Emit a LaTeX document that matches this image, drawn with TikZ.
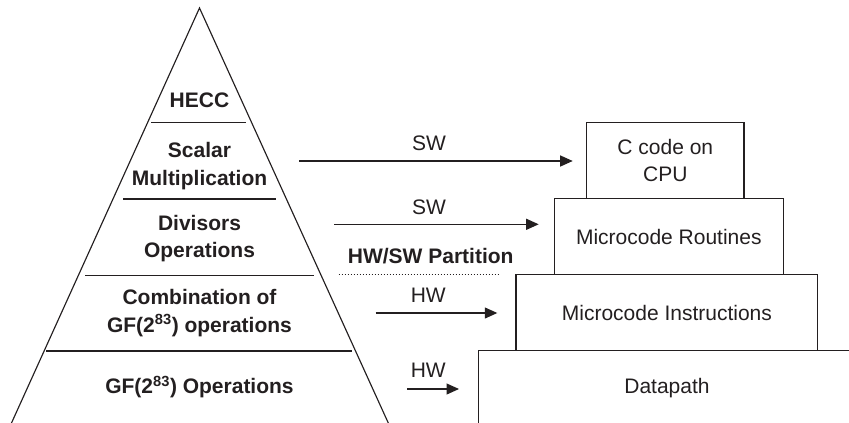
\documentclass[tikz,border=0pt]{standalone}
\usepackage{fontspec}
\setmainfont{Liberation Sans}
\usetikzlibrary{arrows.meta,calc}
\definecolor{ink}{HTML}{231F20}
\begin{document}
\begin{tikzpicture}[x=1pt,y=-1pt,line width=1.15pt,draw=ink,
  every node/.style={font=\fontsize{21}{27.5}\selectfont,text=ink,inner sep=0pt,align=center},
  lvl/.style={font=\fontsize{21}{27.5}\selectfont\bfseries},
  boxnode/.style={draw=ink,line width=1.15pt},
  arr/.style={draw=ink,line width=1.15pt,-{Triangle[length=12.5pt,width=11pt]}},
  divider/.style={draw=ink,line width=1.15pt}]
\useasboundingbox (0,0) rectangle (849,423);
\clip (0,0) rectangle (849,423);
% pyramid
\coordinate (apex) at (199.5,8);
\coordinate (bl) at (11.5,423);
\coordinate (br) at (388.3,423);
\draw[divider] (bl) -- (apex) -- (br);
\coordinate (d1l) at (151,122.7); \coordinate (d1r) at (246,122.7);
\coordinate (d2l) at (123,199);   \coordinate (d2r) at (276,199);
\coordinate (d3l) at (85,275.3);  \coordinate (d3r) at (314,275.3);
\coordinate (d4l) at (46,351);    \coordinate (d4r) at (352,351);
\draw[divider] (d1l) -- (d1r);
\draw[divider] (d2l) -- (d2r);
\draw[divider] (d3l) -- (d3r);
\draw[divider] (d4l) -- (d4r);
\node[lvl] (hecc) at (199.5,100) {HECC};
\node[lvl] (scalar) at (199.5,166) {Scalar\\Multiplication};
\node[lvl] (div) at (199.5,238.5) {Divisors\\Operations};
\node[lvl] (comb) at (199.5,313) {Combination of\\GF(2\textsuperscript{83}) operations};
\node[lvl] (gf) at (199.5,387) {GF(2\textsuperscript{83}) Operations};
% boxes
\node[boxnode,minimum width=157.3pt,minimum height=75.6pt] (cpu) at (665.3,160.5) {C code on\\CPU};
\node[boxnode,minimum width=229pt,minimum height=76.4pt] (rout) at (668.8,236.5) {Microcode Routines};
\node[boxnode,minimum width=301.7pt,minimum height=76pt] (instr) at (666.9,312.7) {Microcode Instructions};
\coordinate (dpb) at (478.3,430);
\coordinate (dptl) at (478.3,350.7);
\coordinate (dptr) at (855,350.7);
\draw[divider] (dpb) -- (dptl) -- (dptr);
\node (dp) at (667,388) {Datapath};
% arrows
\coordinate (a1s) at (299.3,161);  \coordinate (a1e) at (572.7,161);
\coordinate (a2s) at (334.3,224.3); \coordinate (a2e) at (538.7,224.3);
\coordinate (a3s) at (375.7,313);  \coordinate (a3e) at (497.3,313);
\coordinate (a4s) at (407.3,389);  \coordinate (a4e) at (459,389);
\draw[arr] (a1s) -- (a1e);
\draw[arr] (a2s) -- (a2e);
\draw[arr] (a3s) -- (a3e);
\draw[arr] (a4s) -- (a4e);
\node (sw1) at (429,143.5) {SW};
\node (sw2) at (429,207.5) {SW};
\node (hw1) at (428.3,295.5) {HW};
\node (hw2) at (428.3,370) {HW};
\node[lvl] (part) at (430.7,256.5) {HW/SW Partition};
\coordinate (ds) at (338.7,274.7); \coordinate (de) at (498.3,274.7);
\draw[draw=ink,line width=0.8pt,dash pattern=on 1pt off 2pt] (ds) -- (de);
\end{tikzpicture}
\end{document}
